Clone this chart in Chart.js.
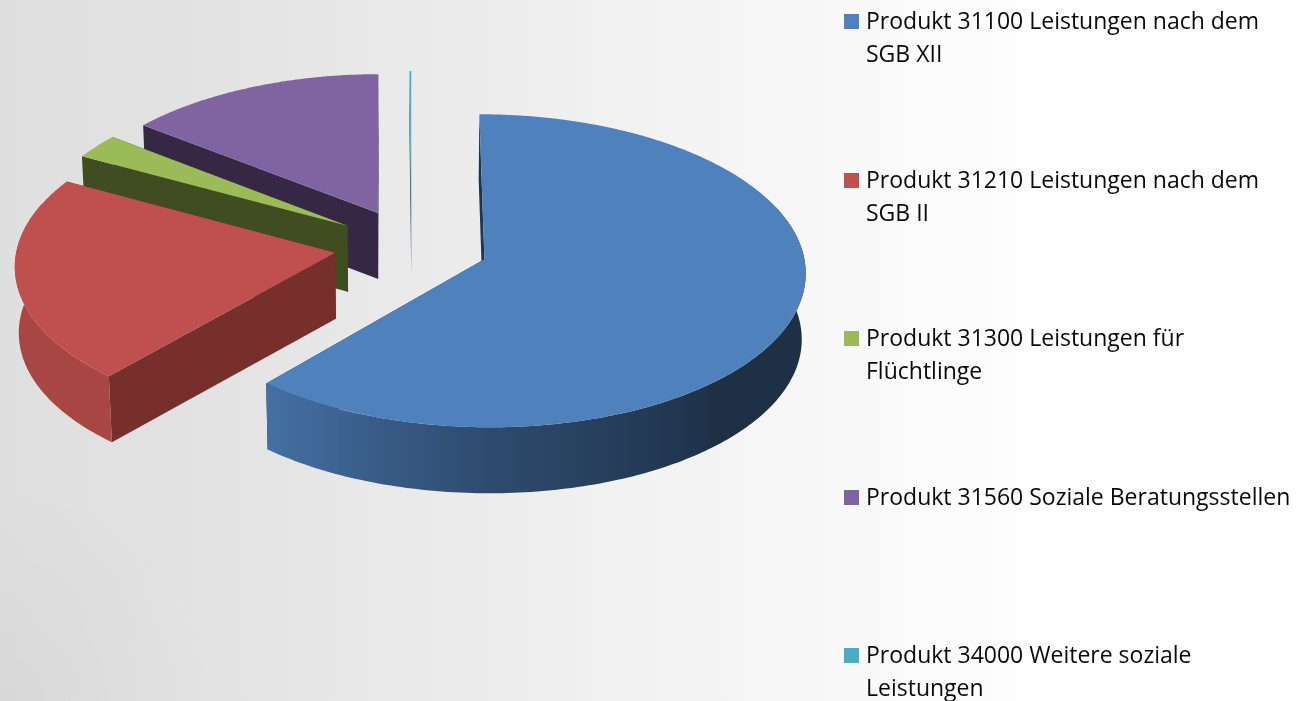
<!DOCTYPE html>
<html lang="de">
<head>
<meta charset="utf-8">
<title>Produkte Soziale Leistungen</title>
<script src="https://cdn.jsdelivr.net/npm/chart.js@4"></script>
<style>
    html, body { margin: 0; padding: 0; width: 1302px; height: 701px; overflow: hidden; }
    body {
        position: relative;
        background:
            radial-gradient(circle at 0 100%, rgba(0, 0, 0, 0.03), rgba(0, 0, 0, 0) 220px),
            linear-gradient(90deg, #dfdfdf 0, #e0e0e0 60px, #e3e3e3 225px, #e8e8e8 346px, #eeeeee 538px,
            #f2f2f2 632px, #f6f6f6 770px, #f9f9f9 860px, #fdfdfd 1000px, #ffffff 1100px);
    }
    #chart { position: absolute; left: 0; top: 0; }
    #legend { position: absolute; left: 844px; top: 4px; width: 452px; font: 23px/33px "Open Sans", sans-serif; color: #0a0a0a; }
    .row { position: relative; height: 158.5px; padding-left: 22px; box-sizing: border-box; }
    .swatch { position: absolute; left: 0; top: 10px; width: 15px; height: 15px; }
</style>
</head>
<body>
<canvas id="chart" width="1302" height="701"></canvas>
<div id="legend"></div>
<script>
// Daten
const categories = [
    'Produkt 31100 Leistungen nach dem SGB XII',
    'Produkt 31210 Leistungen nach dem SGB II',
    'Produkt 31300 Leistungen für Flüchtlinge',
    'Produkt 31560 Soziale Beratungsstellen',
    'Produkt 34000 Weitere soziale Leistungen'
];
const shares = [61.4, 21.5, 2.65, 14.35, 0.1];
const topColors = ['#4f81bd', '#c0504d', '#9bbb59', '#8064a2', '#4bacc6'];
const cutColors = ['#1c3550', '#772f2c', '#404d21', '#362845', '#1f5f70'];

// Projektion der Kreisebene auf den Bildschirm
const view = { x: 411.5, y: 246, width: 318, height: 153.7, persp: 0.0735, depth: 66, floorScale: 0.99 };

function project(u, v) {
    const w = 1 + view.persp * v;
    return [view.x + view.width * u / w, view.y - view.height * v / w];
}

function fillPoly(ctx, points, fill) {
    ctx.beginPath();
    points.forEach((p, i) => i ? ctx.lineTo(p[0], p[1]) : ctx.moveTo(p[0], p[1]));
    ctx.closePath();
    ctx.fillStyle = fill;
    ctx.fill();
}

// Helligkeit der Außenwand je nach Winkel (im Uhrzeigersinn ab oben)
function wallShade(deg) {
    if (deg >= 221) return 0.87;
    if (deg >= 180) return 0.58 + (deg - 180) / 41 * 0.29;
    if (deg >= 140) return 0.39 + (deg - 140) / 40 * 0.19;
    return 0.37;
}

function darken(hex, f) {
    const n = parseInt(hex.slice(1), 16);
    return `rgb(${Math.round((n >> 16) * f)},${Math.round(((n >> 8) & 255) * f)},${Math.round((n & 255) * f)})`;
}

function drawSlice(ctx, arc, index) {
    const start = arc.startAngle;
    const end = arc.endAngle;
    const mid = (start + end) / 2;
    const off = arc.options.offset / arc.outerRadius;
    const ox = Math.cos(mid) * off;
    const oy = -Math.sin(mid) * off;
    const at = (a, r) => project(ox + Math.cos(a) * r, oy - Math.sin(a) * r);
    const down = (p) => [view.x + (p[0] - view.x) * view.floorScale, p[1] + view.depth];
    const toDeg = (a) => (a + Math.PI / 2) * 180 / Math.PI;
    const step = Math.PI / 180;

    // Schnittflächen
    [start, end].forEach((a) => {
        const c = at(a, 0);
        const e = at(a, 1);
        fillPoly(ctx, [c, e, down(e), down(c)], cutColors[index]);
    });

    // Außenwand, nur der sichtbare Teil, mit Verlauf in x-Richtung
    const wallAngles = [];
    for (let a = start; a < end; a += step) {
        if (toDeg(a) >= 70 && toDeg(a) <= 290) wallAngles.push(a);
    }
    if (wallAngles.length > 1) {
        if (toDeg(end) <= 290) wallAngles.push(end);
        const rim = wallAngles.map((a) => at(a, 1));
        const xs = rim.map((p) => p[0]);
        const minX = Math.min(...xs);
        const maxX = Math.max(...xs);
        const gradient = ctx.createLinearGradient(minX, 0, maxX, 0);
        wallAngles.forEach((a, i) => {
            const t = (xs[i] - minX) / (maxX - minX);
            gradient.addColorStop(t, darken(topColors[index], wallShade(toDeg(a))));
        });
        fillPoly(ctx, rim.concat(rim.map(down).reverse()), gradient);
    }

    // Deckfläche
    const top = [at(start, 0)];
    for (let a = start; a < end; a += step / 2) top.push(at(a, 1));
    top.push(at(end, 1));
    fillPoly(ctx, top, topColors[index]);
}

// Zeichnet die Segmente aus den Arc-Elementen von Chart.js als 3D-Torte
const pie3d = {
    id: 'pie3d',
    beforeDatasetsDraw(chart) {
        const arcs = chart.getDatasetMeta(0).data;
        for (let i = arcs.length - 1; i >= 0; i--) {
            drawSlice(chart.ctx, arcs[i], i);
        }
        return false;
    }
};

new Chart(document.getElementById('chart'), {
    type: 'pie',
    data: {
        labels: categories,
        datasets: [{ data: shares, backgroundColor: topColors, borderWidth: 0, offset: 76 }]
    },
    options: {
        responsive: false,
        animation: false,
        events: [],
        plugins: { legend: { display: false }, tooltip: { enabled: false } }
    },
    plugins: [pie3d]
});

// Legende
const legend = document.getElementById('legend');
categories.forEach((name, i) => {
    const row = document.createElement('div');
    row.className = 'row';
    const swatch = document.createElement('span');
    swatch.className = 'swatch';
    swatch.style.background = topColors[i];
    row.appendChild(swatch);
    row.appendChild(document.createTextNode(name));
    legend.appendChild(row);
});
</script>
</body>
</html>
